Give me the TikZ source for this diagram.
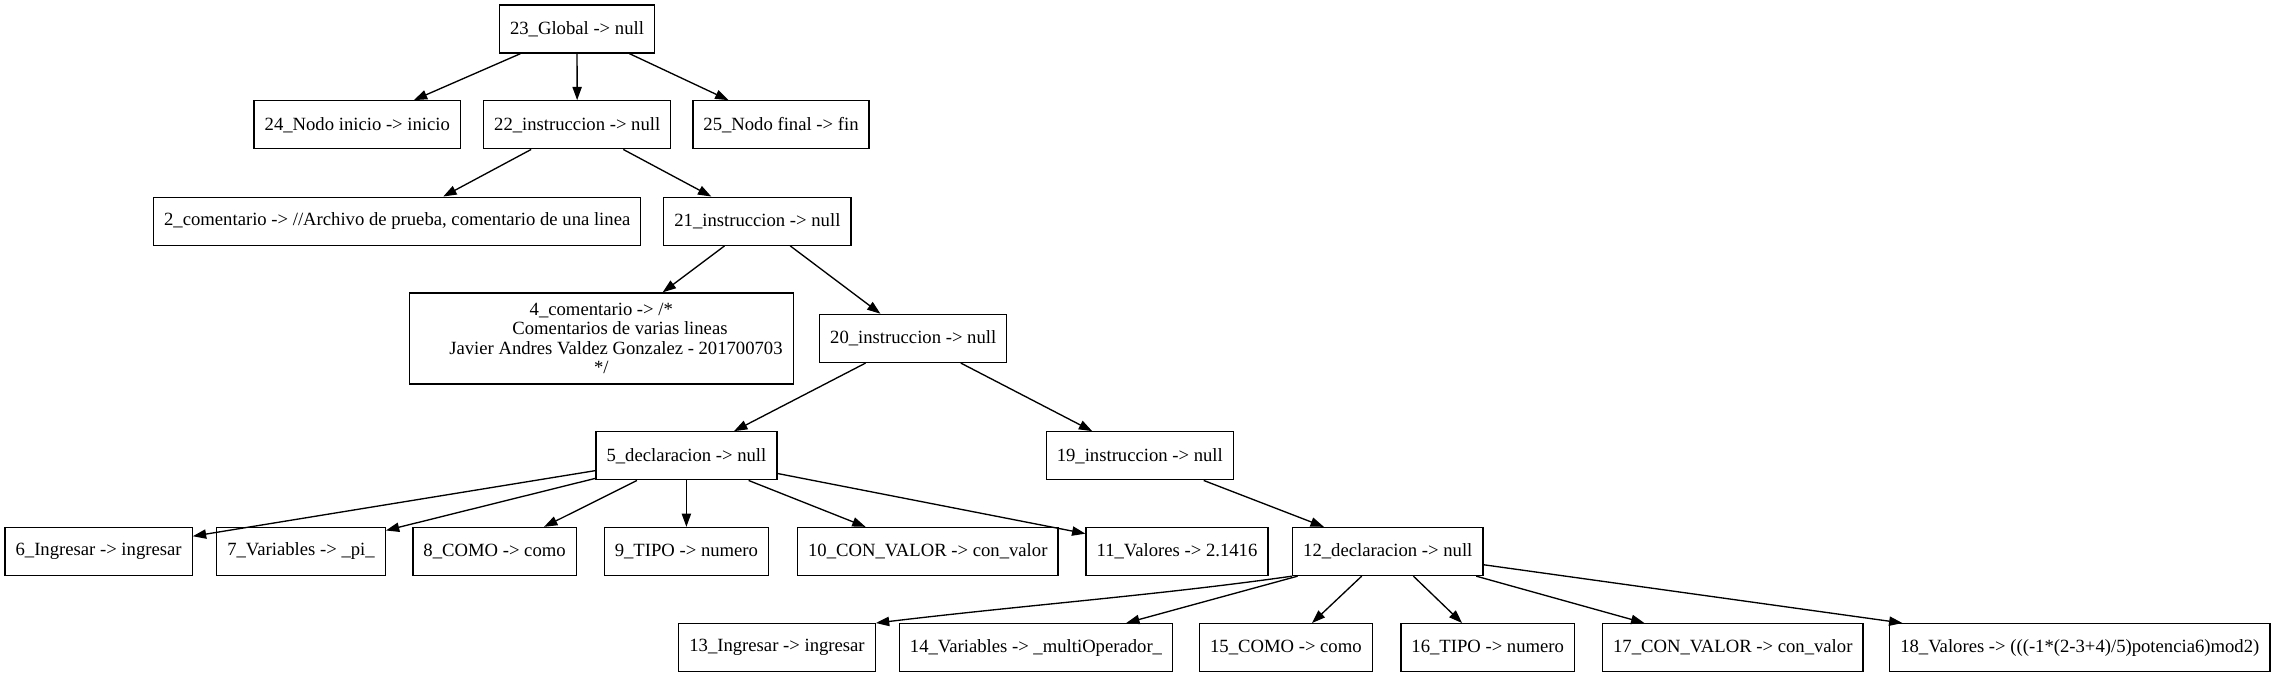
\documentclass[tikz,border=0pt]{standalone}
\usepackage{fontspec}
\setmainfont{Liberation Serif}
\usetikzlibrary{arrows.meta}

\begin{document}
\begin{tikzpicture}[
  x=0.75pt, y=-0.75pt,
  box/.style={draw, rectangle, line width=1pt, minimum height=36pt, minimum width=54pt, inner xsep=7.92pt, inner ysep=4pt, font=\fontsize{14pt}{14.5pt}\selectfont, align=center},
  link/.style={draw, line width=1pt, -{Triangle[length=10pt, width=7pt]}}
]
\useasboundingbox (0,0) rectangle (2275,677);
\node[box] (g23) at (577,29) {23\_Global -> null};
\node[box] (n24) at (357.3,124.8) {24\_Nodo inicio -> inicio};
\node[box] (i22) at (577.2,124.8) {22\_instruccion -> null};
\node[box] (n25) at (781,124.8) {25\_Nodo final -> fin};
\node[box] (c2) at (397.2,221.2) {2\_comentario -> //Archivo de prueba, comentario de una linea};
\node[box] (i21) at (757.4,221.2) {21\_instruccion -> null};
\node[box, minimum height=68.25pt] (c4) at (601.3,338.5) {4\_comentario -> /*\\ \hspace*{28pt}Comentarios de varias lineas\\ \hspace*{22pt}Javier Andres Valdez Gonzalez - 201700703\\{}*/};
\node[box] (i20) at (913.2,338.4) {20\_instruccion -> null};
\node[box] (d5) at (686.4,455.8) {5\_declaracion -> null};
\node[box] (i19) at (1139.8,455.8) {19\_instruccion -> null};
\node[box] (n6) at (98.6,551.5) {6\_Ingresar -> ingresar};
\node[box] (n7) at (301,551.5) {7\_Variables -> \_pi\_};
\node[box] (n8) at (494.6,551.5) {8\_COMO -> como};
\node[box] (n9) at (686.4,551.5) {9\_TIPO -> numero};
\node[box] (n10) at (927.8,551.5) {10\_CON\_VALOR -> con\_valor};
\node[box] (n11) at (1177,551.5) {11\_Valores -> 2.1416};
\node[box] (d12) at (1387.8,551.5) {12\_declaracion -> null};
\node[box] (n13) at (777,647.7) {13\_Ingresar -> ingresar};
\node[box] (n14) at (1036,647.7) {14\_Variables -> \_multiOperador\_};
\node[box] (n15) at (1285.9,647.7) {15\_COMO -> como};
\node[box] (n16) at (1487.7,647.7) {16\_TIPO -> numero};
\node[box] (n17) at (1732.8,647.7) {17\_CON\_VALOR -> con\_valor};
\node[box] (n18) at (2079.8,647.7) {18\_Valores -> (((-1*(2-3+4)/5)potencia6)mod2)};

\draw[link] (g23) -- (n24);
\draw[link] (g23) -- (i22);
\draw[link] (g23) -- (n25);
\draw[link] (i22) -- (c2);
\draw[link] (i22) -- (i21);
\draw[link] (i21) -- (c4);
\draw[link] (i21) -- (i20);
\draw[link] (i20) -- (d5);
\draw[link] (i20) -- (i19);
\foreach \kid in {n6,n7,n8,n9,n10,n11}
  \draw[link] (d5) -- (\kid);
\draw[link] (i19) -- (d12);
\draw[link] (d12.south west) .. controls +(-134,19) and +(150,-18) .. (n13.north east);
\foreach \kid in {n14,n15,n16,n17,n18}
  \draw[link] (d12) -- (\kid);
\end{tikzpicture}
\end{document}
